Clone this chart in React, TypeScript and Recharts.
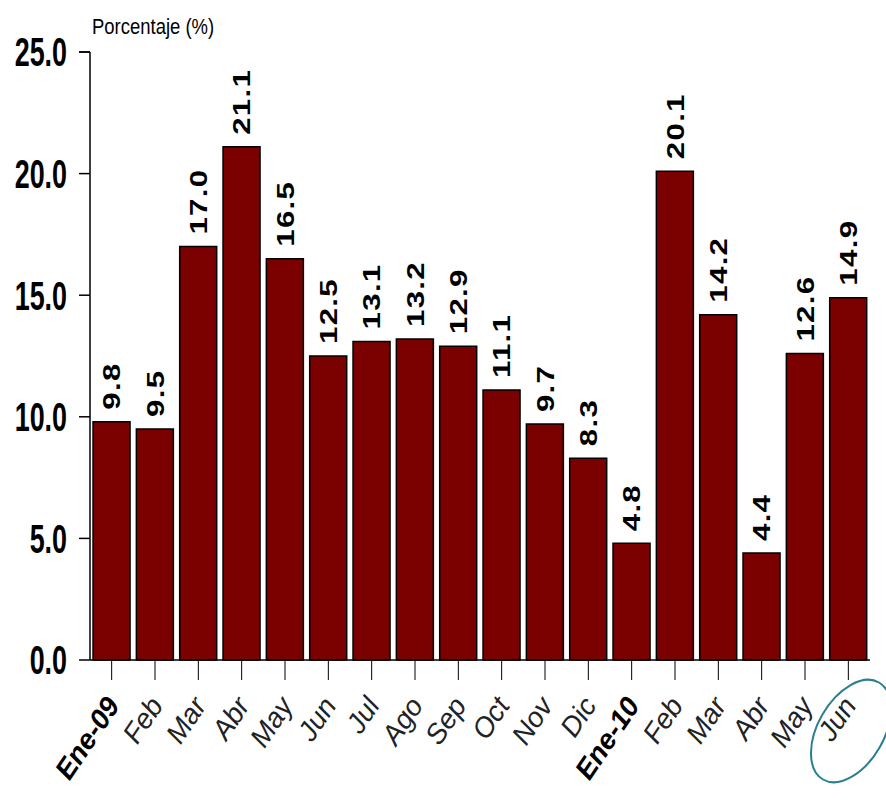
import React from 'react';
import { BarChart, Bar, XAxis, YAxis, LabelList } from 'recharts';

const meses = ['Ene-09', 'Feb', 'Mar', 'Abr', 'May', 'Jun', 'Jul', 'Ago', 'Sep', 'Oct', 'Nov', 'Dic', 'Ene-10', 'Feb', 'Mar', 'Abr', 'May', 'Jun'];
const porcentajes = [9.8, 9.5, 17.0, 21.1, 16.5, 12.5, 13.1, 13.2, 12.9, 11.1, 9.7, 8.3, 4.8, 20.1, 14.2, 4.4, 12.6, 14.9];
const yTicks = [0, 5, 10, 15, 20, 25];

const data = meses.map((mes, i) => ({ mes, valor: porcentajes[i] }));

const SANS = '"Liberation Sans", Arial, sans-serif';

// tall condensed numbers on the value axis
const YTick = (props: any) => {
  const { x, y, payload } = props;
  return (
    <g transform={`translate(${x},${y}) scale(0.84,1.25)`}>
      <text textAnchor="end" dy="0.36em" fontFamily={SANS} fontWeight="bold" fontSize={32} fill="#000">
        {Number(payload.value).toFixed(1)}
      </text>
    </g>
  );
};

const XTick = (props: any) => {
  const { x, y, payload } = props;
  const bold = String(payload.value).startsWith('Ene');
  return (
    <g transform={`translate(${x + 1},${y + 16}) rotate(-56)`}>
      <text
        textAnchor="end"
        dy="0.35em"
        fontFamily={SANS}
        fontStyle="italic"
        fontWeight={bold ? 'bold' : 'normal'}
        fontSize={28}
        fill={bold ? '#000' : '#222'}
      >
        {payload.value}
      </text>
    </g>
  );
};

// vertical, stretched value above each bar
const ValueLabel = (props: any) => {
  const { x, y, width, value } = props;
  const cx = x + width / 2;
  const cy = y - 12;
  return (
    <g transform={`translate(${cx},${cy}) rotate(-90) scale(1.3,1)`}>
      <text
        textAnchor="start"
        dy="0.36em"
        fontFamily={SANS}
        fontWeight="bold"
        fontSize={24}
        letterSpacing={1}
        fill="#000"
      >
        {Number(value).toFixed(1)}
      </text>
    </g>
  );
};

export default function App() {
  return (
    <div style={{ position: 'absolute', left: 0, top: 0, width: 886, height: 801, background: '#fff' }}>
      <BarChart
        width={886}
        height={801}
        data={data}
        margin={{ top: 52, right: 16, left: 0, bottom: 0 }}
        barCategoryGap="7%"
      >
        <XAxis
          dataKey="mes"
          height={141}
          interval={0}
          tickSize={20}
          tickMargin={4}
          tick={<XTick />}
          axisLine={{ stroke: '#000', strokeWidth: 1.5 }}
          tickLine={{ stroke: '#000', strokeWidth: 1 }}
        />
        <XAxis xAxisId="top" orientation="top" dataKey="mes" height={0} tick={false} tickLine={false} axisLine={{ stroke: '#444', strokeWidth: 2 }} />
        <YAxis
          width={90}
          domain={[0, 25]}
          ticks={yTicks}
          interval={0}
          tickSize={11}
          tickMargin={12}
          tick={<YTick />}
          axisLine={{ stroke: '#000', strokeWidth: 1.5 }}
          tickLine={{ stroke: '#000', strokeWidth: 1.5 }}
        />
        <YAxis yAxisId="right" orientation="right" width={0} tick={false} tickLine={false} axisLine={{ stroke: '#000', strokeWidth: 1.5 }} />
        <Bar dataKey="valor" fill="#7B0000" stroke="#000" strokeWidth={1.5} isAnimationActive={false}>
          <LabelList dataKey="valor" content={<ValueLabel />} />
        </Bar>
      </BarChart>
      <svg width={886} height={801} style={{ position: 'absolute', left: 0, top: 0, pointerEvents: 'none' }}>
        <g transform="translate(92,34) scale(0.84,1)">
          <text x={0} y={0} fontFamily={SANS} fontSize={22} fill="#000">
            Porcentaje (%)
          </text>
        </g>
        <line x1={79} y1={52} x2={90} y2={52} stroke="#000" strokeWidth={1.5} />
        <ellipse cx={851} cy={731} rx={56} ry={33} transform="rotate(-60 851 731)" fill="none" stroke="#2A7F91" strokeWidth={2} />
      </svg>
    </div>
  );
}
